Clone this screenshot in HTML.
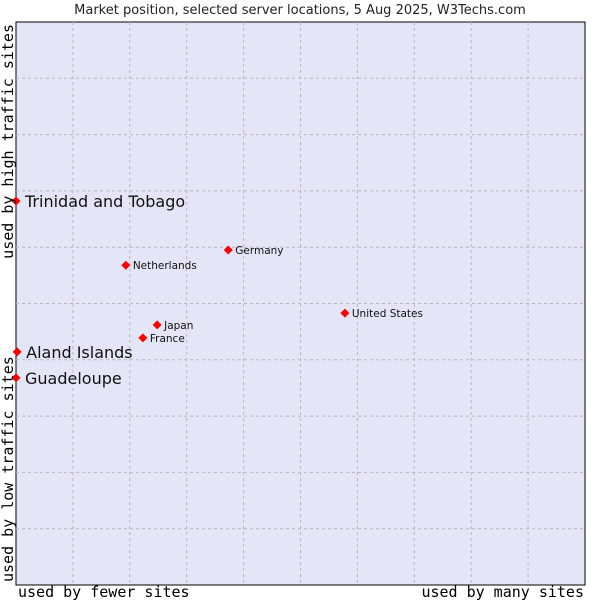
<!DOCTYPE html>
<html><head><meta charset="utf-8"><style>
body{margin:0;background:#fff;}
svg text{font-family:"DejaVu Sans","Liberation Sans",sans-serif;}
</style></head><body>
<svg id="chart" width="600" height="600" viewBox="0 0 600 600" xmlns="http://www.w3.org/2000/svg">
<text x="300" y="14" text-anchor="middle" font-size="13" fill="#222">Market position, selected server locations, 5 Aug 2025, W3Techs.com</text>
<rect x="16" y="22" width="569" height="563" fill="#e4e6f8" stroke="#000" stroke-width="1"/>
<g id="grid"></g>
<g id="points"></g>
<text x="18" y="597" font-size="15" fill="#000" style="font-family:'DejaVu Sans Mono',monospace">used by fewer sites</text>
<text x="584" y="597" text-anchor="end" font-size="15" fill="#000" style="font-family:'DejaVu Sans Mono',monospace">used by many sites</text>
<text transform="translate(13,582) rotate(-90)" font-size="15" fill="#000" style="font-family:'DejaVu Sans Mono',monospace">used by low traffic sites</text>
<text transform="translate(13,24) rotate(-90)" text-anchor="end" font-size="15" fill="#000" style="font-family:'DejaVu Sans Mono',monospace">used by high traffic sites</text>
</svg>
<script>
const names=["Trinidad and Tobago","Aland Islands","Guadeloupe","Germany","Netherlands","United States","Japan","France"];
const xs=[0,0.2,0,37.3,19.3,57.8,24.8,22.3];
const ys=[68.2,41.4,36.8,59.5,56.8,48.3,46.2,43.9];
const big=[true,true,true,false,false,false,false,false];
const X0=16,X1=585,Y0=585,Y1=22;
const sx=v=>X0+(X1-X0)*v/100, sy=v=>Y0-(Y0-Y1)*v/100;
const NS="http://www.w3.org/2000/svg";
const g=document.getElementById('grid');
for(let i=1;i<10;i++){
 let l=document.createElementNS(NS,'line');
 
 
 l.setAttribute('x1',sx(i*10));l.setAttribute('x2',sx(i*10));l.setAttribute('y1',Y1);l.setAttribute('y2',Y0);
 l.setAttribute('stroke','#b8b8b8');l.setAttribute('stroke-dasharray','3,3');g.appendChild(l);
 let m=document.createElementNS(NS,'line');
 
 
 m.setAttribute('y1',sy(i*10));m.setAttribute('y2',sy(i*10));m.setAttribute('x1',X0);m.setAttribute('x2',X1);
 m.setAttribute('stroke','#b8b8b8');m.setAttribute('stroke-dasharray','3,3');g.appendChild(m);
}
const p=document.getElementById('points');
names.forEach((n,i)=>{
 const x=sx(xs[i]),y=sy(ys[i]);
 let d=document.createElementNS(NS,'path');
 
 
 d.setAttribute('d',`M${x-4.5},${y} L${x},${y-4.5} L${x+4.5},${y} L${x},${y+4.5} Z`);
 d.setAttribute('fill','#ff0000');p.appendChild(d);
 let t=document.createElementNS(NS,'text');
 
 
 t.setAttribute('x',x+(big[i]?9:7));t.setAttribute('y',y+(big[i]?6:4));
 t.setAttribute('font-size',big[i]?'16':'10.5');t.setAttribute('fill','#111');
 t.textContent=n;p.appendChild(t);
});
</script>
</body></html>
